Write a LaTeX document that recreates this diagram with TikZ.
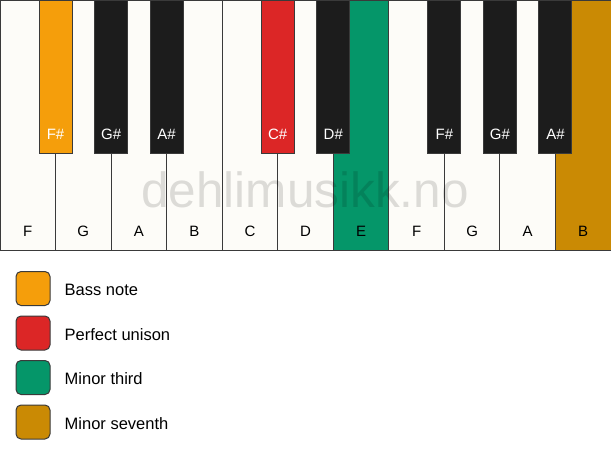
\documentclass[tikz,border=0pt]{standalone}
\usepackage{fontspec}
\setmainfont{Liberation Sans}
\usetikzlibrary{positioning}

\definecolor{keywhite}{HTML}{FDFCF8}
\definecolor{keyblack}{HTML}{1C1C1C}
\definecolor{keyline}{HTML}{3A3A3A}
\definecolor{bassnote}{HTML}{F59E0B}
\definecolor{unison}{HTML}{DC2626}
\definecolor{minthird}{HTML}{059669}
\definecolor{minseventh}{HTML}{CA8A04}

\tikzset{
  wkey/.style={draw=keyline, line width=1pt, fill=keywhite, minimum width=55.545pt,
    minimum height=250pt, inner sep=0pt, outer sep=0pt},
  bkey/.style={draw=keyline, line width=1pt, fill=keyblack, minimum width=33pt,
    minimum height=153pt, inner sep=0pt, outer sep=0pt, anchor=north},
  wtext/.style={font=\fontsize{15}{18}\selectfont, text=black, inner sep=0pt},
  btext/.style={wtext, text=white},
  legbox/.style={draw=keyline, line width=1pt, rounded corners=5pt, minimum size=34pt, inner sep=0pt},
  legtext/.style={font=\fontsize{16.5}{19}\selectfont, inner sep=0pt},
  watermark/.style={font=\fontsize{49.5}{55}\selectfont, text=black, text opacity=0.13, inner sep=0pt, anchor=base}
}

\begin{document}
\begin{tikzpicture}[x=1pt,y=-1pt,node distance=55.545pt]
  \useasboundingbox (0,0) rectangle (611,461);

  % white keys
  \node[wkey, anchor=north west] (w1) at (0,0) {};
  \node[wkey]                 (w2)  [right of=w1]  {};
  \node[wkey]                 (w3)  [right of=w2]  {};
  \node[wkey]                 (w4)  [right of=w3]  {};
  \node[wkey]                 (w5)  [right of=w4]  {};
  \node[wkey]                 (w6)  [right of=w5]  {};
  \node[wkey, fill=minthird]  (w7)  [right of=w6]  {};
  \node[wkey]                 (w8)  [right of=w7]  {};
  \node[wkey]                 (w9)  [right of=w8]  {};
  \node[wkey]                 (w10) [right of=w9]  {};
  \node[wkey, fill=minseventh] (w11) [right of=w10] {};

  \node[wtext] (tw1)  [above=13.5pt of w1.south]  {F};
  \node[wtext] (tw2)  [above=13.5pt of w2.south]  {G};
  \node[wtext] (tw3)  [above=13.5pt of w3.south]  {A};
  \node[wtext] (tw4)  [above=13.5pt of w4.south]  {B};
  \node[wtext] (tw5)  [above=13.5pt of w5.south]  {C};
  \node[wtext] (tw6)  [above=13.5pt of w6.south]  {D};
  \node[wtext] (tw7)  [above=13.5pt of w7.south]  {E};
  \node[wtext] (tw8)  [above=13.5pt of w8.south]  {F};
  \node[wtext] (tw9)  [above=13.5pt of w9.south]  {G};
  \node[wtext] (tw10) [above=13.5pt of w10.south] {A};
  \node[wtext] (tw11) [above=13.5pt of w11.south] {B};

  % black keys
  \node[bkey, fill=bassnote] (k1) at (w1.north east)  {};
  \node[bkey]                (k2) at (w2.north east)  {};
  \node[bkey]                (k3) at (w3.north east)  {};
  \node[bkey, fill=unison]   (k4) at (w5.north east)  {};
  \node[bkey]                (k5) at (w6.north east)  {};
  \node[bkey]                (k6) at (w8.north east)  {};
  \node[bkey]                (k7) at (w9.north east)  {};
  \node[bkey]                (k8) at (w10.north east) {};

  \node[btext] (tk1) [above=13.5pt of k1.south] {F\#};
  \node[btext] (tk2) [above=13.5pt of k2.south] {G\#};
  \node[btext] (tk3) [above=13.5pt of k3.south] {A\#};
  \node[btext] (tk4) [above=13.5pt of k4.south] {C\#};
  \node[btext] (tk5) [above=13.5pt of k5.south] {D\#};
  \node[btext] (tk6) [above=13.5pt of k6.south] {F\#};
  \node[btext] (tk7) [above=13.5pt of k7.south] {G\#};
  \node[btext] (tk8) [above=13.5pt of k8.south] {A\#};

  \node[watermark] (wm) at (305,207) {dehlimusikk.no};

  % legend
  \begin{scope}[node distance=44.5pt]
    \node[legbox, fill=bassnote]   (l1) at (33,288.5) {};
    \node[legbox, fill=unison]     (l2) [below of=l1] {};
    \node[legbox, fill=minthird]   (l3) [below of=l2] {};
    \node[legbox, fill=minseventh] (l4) [below of=l3] {};

    \node[legtext] (tl1) [right=14pt of l1, yshift=-1.5pt] {Bass note};
    \node[legtext] (tl2) [right=14pt of l2, yshift=-1.5pt] {Perfect unison};
    \node[legtext] (tl3) [right=14pt of l3, yshift=-1.5pt] {Minor third};
    \node[legtext] (tl4) [right=14pt of l4, yshift=-1.5pt] {Minor seventh};
  \end{scope}
\end{tikzpicture}
\end{document}
